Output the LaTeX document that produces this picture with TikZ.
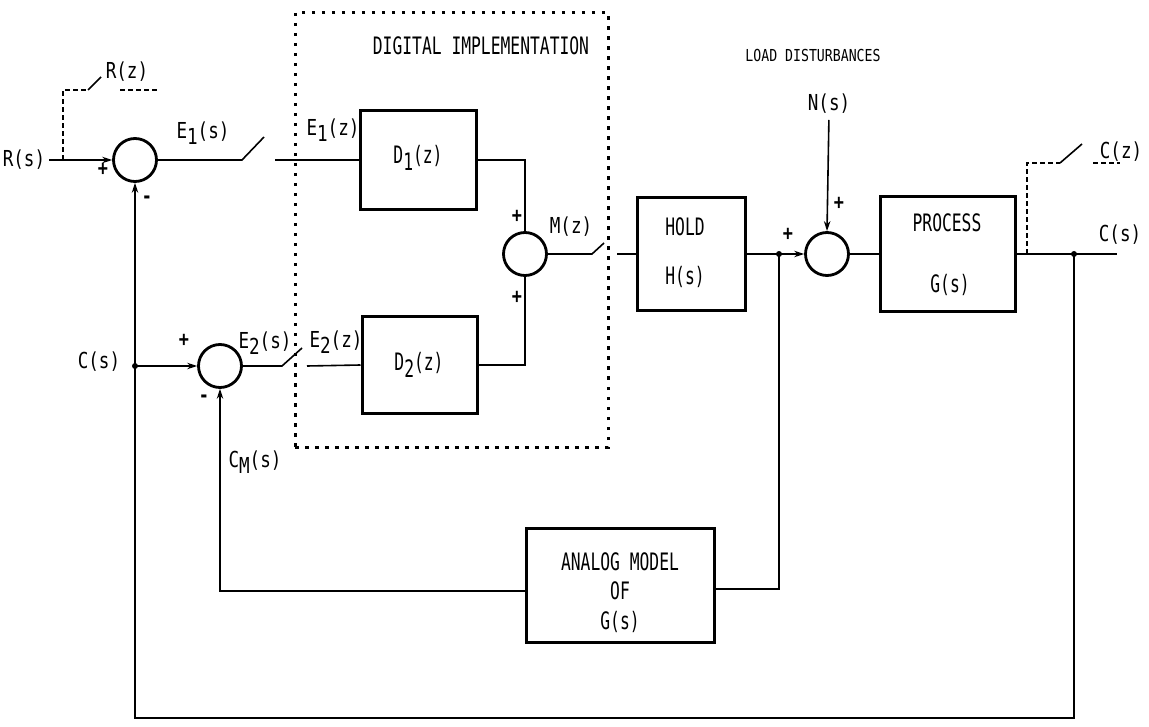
\documentclass[tikz,border=0pt]{standalone}
\usepackage{fontspec}
\usetikzlibrary{arrows.meta}
\newfontfamily\lblfont[FakeStretch=0.8]{DejaVu Sans Mono}
\newfontfamily\boxfont[FakeStretch=0.68]{DejaVu Sans Mono}
\newcommand\lo[1]{\raisebox{-0.55ex}{#1}}
\begin{document}
\begin{tikzpicture}[x=1pt,y=-1pt,
  sumj/.style={circle,draw,line width=2.8pt,minimum size=43pt,inner sep=0pt},
  blk/.style={rectangle,draw,line width=3pt,inner sep=0pt},
  conn/.style={line width=1.6pt},
  arr/.style={conn,-{Stealth[length=10pt,width=6.5pt]}},
  samp/.style={line width=1.8pt,dash pattern=on 5pt off 3pt},
  dig/.style={draw,line width=3pt,dash pattern=on 3.5pt off 6.5pt,inner sep=0pt},
  lbl/.style={font=\lblfont\fontsize{22}{24}\selectfont,inner sep=0pt},
  btxt/.style={font=\boxfont\fontsize{24}{26}\selectfont,inner sep=0pt},
  small/.style={font=\lblfont\fontsize{16.5}{18}\selectfont,inner sep=0pt},
  sign/.style={font=\lblfont\fontsize{21}{21}\selectfont\bfseries,inner sep=0pt},
  jdot/.style={circle,fill,minimum size=6pt,inner sep=0pt}
]
\useasboundingbox (0,0) rectangle (1149,727);

% digital implementation frame
\node[dig,minimum width=313pt,minimum height=434pt] (digi) at (451.5,230) {};
\node[btxt] (digt) at (481,46) {DIGITAL IMPLEMENTATION};
\node[small] (load) at (813,55) {LOAD DISTURBANCES};

% summing junctions
\node[sumj] (s1) at (135,160) {};
\node[sumj] (s2) at (525,254) {};
\node[sumj] (s3) at (827,254) {};
\node[sumj] (s4) at (220,366) {};

% blocks
\node[blk,minimum width=116pt,minimum height=99pt] (d1) at (418,160) {};
\node[btxt] (d1t) at (418,158) {D\lo{1}(z)};
\node[blk,minimum width=115pt,minimum height=96pt] (d2) at (419.5,365) {};
\node[btxt] (d2t) at (419,365) {D\lo{2}(z)};
\node[blk,minimum width=108pt,minimum height=113pt] (hold) at (691,254) {};
\node[btxt] (holdt) at (685,227) {HOLD};
\node[btxt] (holdh) at (685,277) {H(s)};
\node[blk,minimum width=135pt,minimum height=115pt] (proc) at (947.5,254) {};
\node[btxt] (proct) at (947,223) {PROCESS};
\node[btxt] (procg) at (950,285) {G(s)};
\node[blk,minimum width=188pt,minimum height=114pt] (analog) at (620,585) {};
\node[btxt] (an1) at (620,562) {ANALOG MODEL};
\node[btxt] (an2) at (620,591) {OF};
\node[btxt] (an3) at (620,622) {G(s)};

% labels
\node[lbl] (rs) at (24,160) {R(s)};
\node[lbl] (rz) at (127,72) {R(z)};
\node[lbl] (e1s) at (203,133) {E\lo{1}(s)};
\node[lbl] (e1z) at (333,130) {E\lo{1}(z)};
\node[lbl] (mz) at (571,227) {M(z)};
\node[lbl] (ns) at (829,104) {N(s)};
\node[lbl] (cz) at (1121,152) {C(z)};
\node[lbl] (cso) at (1120,235) {C(s)};
\node[lbl] (csi) at (99,362) {C(s)};
\node[lbl] (e2s) at (265,343) {E\lo{2}(s)};
\node[lbl] (e2z) at (336,342) {E\lo{2}(z)};
\node[lbl] (cm) at (255,462) {C\lo{M}(s)};

% signs
\node[sign] (p1) at (103,169) {+};
\node[sign] (m1) at (147,200) {-};
\node[sign] (p2a) at (517,216) {+};
\node[sign] (p2b) at (517,297) {+};
\node[sign] (p3a) at (788,234) {+};
\node[sign] (p3b) at (839,203) {+};
\node[sign] (p4) at (184,340) {+};
\node[sign] (m4) at (204,399) {-};

% coordinates
\coordinate (rz0) at (63,160);
\coordinate (rz1) at (63,90);
\coordinate (rz2) at (88,90);
\coordinate (rz3) at (101,77);
\coordinate (rz4) at (120,90);
\coordinate (rz5) at (157,90);
\coordinate (sw1a) at (242,160);
\coordinate (sw1b) at (264,137);
\coordinate (sw1c) at (275,160);
\coordinate (sw2a) at (592,254);
\coordinate (sw2b) at (604,243);
\coordinate (sw2c) at (617,254);
\coordinate (sw4a) at (282,366);
\coordinate (sw4b) at (302,348);
\coordinate (sw4c) at (307,366);
\coordinate (cout) at (1117,254);
\coordinate (cz0) at (1027,254);
\coordinate (cz1) at (1027,163);
\coordinate (cz2) at (1060,163);
\coordinate (cz3) at (1082,144);
\coordinate (cz4) at (1093,163);
\coordinate (cz5) at (1120,163);
\coordinate (br) at (1074,718);
\coordinate (bl) at (135,718);
\coordinate (mr) at (779,589);
\coordinate (ml) at (220,591);
\node[jdot] (j1) at (779,254) {};
\node[jdot] (j2) at (1074,254) {};
\node[jdot] (j3) at (135,366) {};

% input and R(z) sampler
\draw[arr,shorten <=4pt] (rs.east) -- (s1.west);
\draw[samp] (rz0) -- (rz1) -- (rz2);
\draw[conn] (rz2) -- (rz3);
\draw[samp] (rz4) -- (rz5);

% forward path
\draw[conn] (s1.east) -- (sw1a) -- (sw1b);
\draw[conn] (sw1c) -- (d1.west);
\draw[conn] (d1.east) -| (s2.north);
\draw[conn] (d2.east) -| (s2.south);
\draw[conn] (s2.east) -- (sw2a) -- (sw2b);
\draw[conn] (sw2c) -- (hold.west);
\draw[arr] (hold.east) -- (s3.west);
\draw[arr,shorten <=6pt] (ns.south) -- (s3.north);
\draw[conn] (s3.east) -- (proc.west);
\draw[conn] (proc.east) -- (cout);

% C(z) sampler
\draw[samp] (cz0) -- (cz1) -- (cz2);
\draw[conn] (cz2) -- (cz3);
\draw[samp] (cz4) -- (cz5);

% feedback
\draw[arr] (j2.center) -- (br) -- (bl) -- (s1.south);
\draw[arr] (j3.center) -- (s4.west);
\draw[conn] (s4.east) -- (sw4a) -- (sw4b);
\draw[conn] (sw4c) -- (d2.west);

% analog model loop
\draw[conn] (j1.center) -- (mr) -- (mr -| analog.east);
\draw[arr] (ml -| analog.west) -- (ml) -- (s4.south);
\end{tikzpicture}
\end{document}
